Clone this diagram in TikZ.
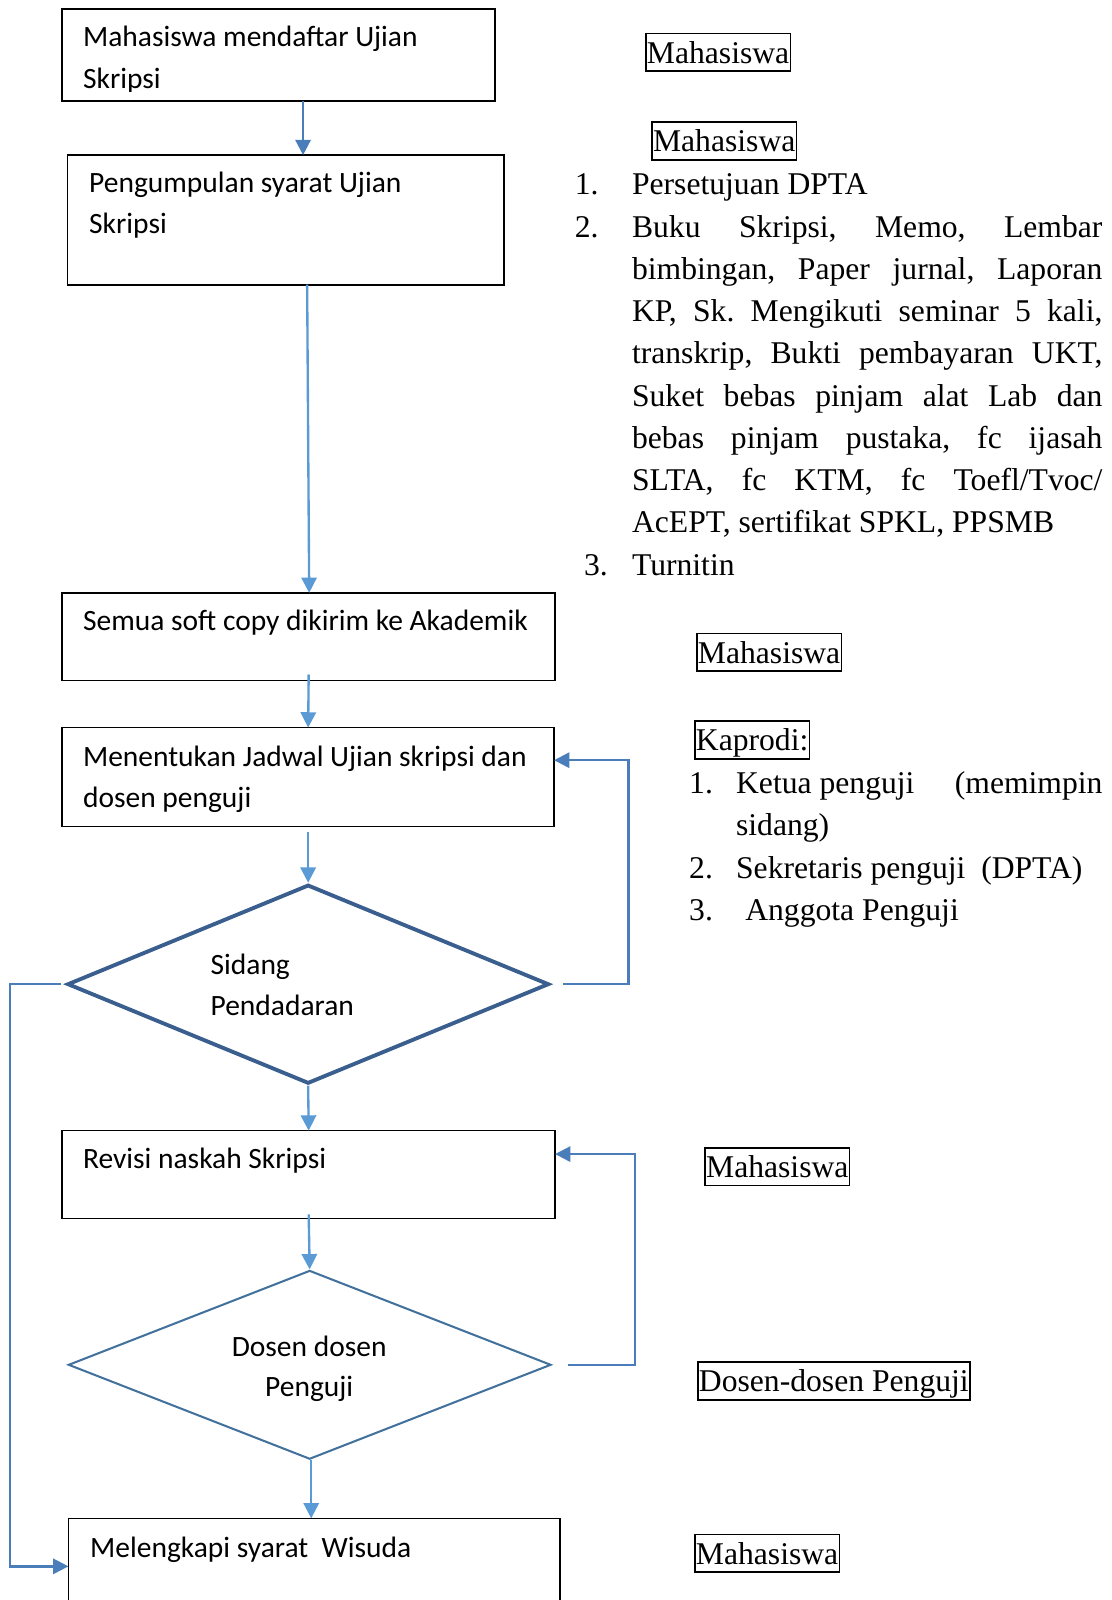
\documentclass[tikz,border=0pt]{standalone}
\usepackage{fontspec}
\setmainfont{Liberation Serif}
\newfontfamily\calfont{Carlito}
\usetikzlibrary{shapes.geometric,arrows.meta}
\definecolor{lblue}{HTML}{5B9BD5}
\definecolor{mblue}{HTML}{4A7EBB}
\definecolor{dblue}{HTML}{41719C}
\definecolor{dkblue}{HTML}{3A5F8F}
\frenchspacing
\tikzset{
  procbox/.style={draw, line width=0.8pt, inner sep=0pt, outer sep=0pt},
  ctext/.style={font=\calfont\fontsize{14.45pt}{20pt}\selectfont, inner sep=0pt, anchor=base west},
  ttext/.style={font=\fontsize{15.5pt}{20.8pt}\selectfont, inner sep=0pt, anchor=base west},
  tag/.style={draw, line width=0.8pt, font=\fontsize{15.5pt}{20.8pt}\selectfont, inner xsep=0.6pt, inner ysep=0.5pt, text height=14pt, text depth=3.5pt, anchor=north west},
  decA/.style={diamond, draw=dkblue, line width=1.9pt, inner sep=0pt},
  decB/.style={diamond, draw=dblue, line width=1pt, inner sep=0pt},
  arrd/.style={draw=lblue, line width=1.15pt, -{Triangle[length=7.5pt,width=7.5pt]}},
  fb/.style={draw=mblue, line width=1.15pt, -{Triangle[length=7.5pt,width=7.5pt]}}
}
\begin{document}
\begin{tikzpicture}[x=0.5pt,y=-0.5pt]
\useasboundingbox (0,0) rectangle (1089,1568);
\clip (0,0) rectangle (1089,1568);

% ---------- process boxes ----------
\node[procbox, minimum width=212pt, minimum height=45pt] (b1) at (273,54) {};
\node[procbox, minimum width=214pt, minimum height=63.5pt] (b2) at (280,215.5) {};
\node[procbox, minimum width=241.5pt, minimum height=43pt] (b3) at (302.5,624) {};
\node[procbox, minimum width=241pt, minimum height=48.5pt] (b4) at (302,761.5) {};
\node[decA, minimum width=236pt, minimum height=97.5pt] (d1) at (302,964.5) {};
\node[procbox, minimum width=241.5pt, minimum height=43pt] (b5) at (302.5,1151) {};
\node[decB, minimum width=236.5pt, minimum height=92.5pt] (d2) at (303.5,1337.5) {};
\node[procbox, minimum width=241pt, minimum height=50pt] (b6) at (308,1538) {};

% ---------- texts in boxes ----------
\node[ctext] (t1a) at (81,46) {Mahasiswa mendaftar Ujian};
\begin{scope}
  \clip (62,10) rectangle (484,89.5);
  \node[ctext] (t1b) at (81,87) {Skripsi};
\end{scope}
\node[ctext] (t2a) at (87,189) {Pengumpulan syarat Ujian};
\node[ctext] (t2b) at (87,229) {Skripsi};
\node[ctext] (t3) at (81,618) {Semua soft copy dikirim ke Akademik};
\node[ctext] (t4a) at (81,751) {Menentukan Jadwal Ujian skripsi dan};
\node[ctext] (t4b) at (81,791) {dosen penguji};
\node[ctext] (td1a) at (206,955) {Sidang};
\node[ctext] (td1b) at (206,995) {Pendadaran};
\node[ctext] (t5) at (81,1145) {Revisi naskah Skripsi};
\node[ctext, anchor=base] (td2a) at (303,1329) {Dosen dosen};
\node[ctext, anchor=base] (td2b) at (303,1369) {Penguji};
\node[ctext] (t6) at (88,1526) {Melengkapi syarat~ Wisuda};

% ---------- connectors ----------
\coordinate (cA) at (297,0);
\coordinate (cB) at (301,0);
\coordinate (cC) at (303,0);
\coordinate (cD) at (305,0);
\draw[arrd, draw=mblue] (b1.south -| cA) -- (b2.north -| cA);
\draw[arrd] (b2.south -| cB) -- (b3.north -| cC);
\draw[arrd] ([yshift=3pt]b3.south) -- (b4.north);
\draw[arrd] ([yshift=-2.5pt]b4.south) -- (d1.north);
\draw[arrd] (d1.south) -- (b5.north);
\draw[arrd] ([yshift=2pt]b5.south) -- (d2.north);
\draw[arrd] (d2.south -| cD) -- (b6.north -| cD);

\coordinate (r1) at (616,745);
\draw[fb] ([xshift=6pt]d1.east) -| (r1) -- (b4.east |- r1);
\coordinate (r2) at (622,1131);
\draw[fb] ([xshift=8pt]d2.east) -| (r2) -- (b5.east |- r2);
\coordinate (l1) at (10,964.5);
\coordinate (l2) at (10,1535);
\draw[fb] ([xshift=-2pt]d1.west) -- (l1) -- (l2) -- (b6.west |- l2);

% ---------- right column ----------
\node[tag] (m1) at (632,32) {Mahasiswa};
\node[tag] (m2) at (638,119) {Mahasiswa};
\node[ttext] (n1) at (563,191) {1.};
\node[ttext] (i1) at (619,191) {Persetujuan DPTA};
\node[ttext] (n2) at (563,232.4) {2.};
\node[ttext] (i2a) at (619,232.4) {\makebox[230.5pt][s]{Buku Skripsi, Memo, Lembar}};
\node[ttext] (i2b) at (619,273.8) {\makebox[230.5pt][s]{bimbingan, Paper jurnal, Laporan}};
\node[ttext] (i2c) at (619,315.2) {\makebox[230.5pt][s]{KP, Sk. Mengikuti seminar 5 kali,}};
\node[ttext] (i2d) at (619,356.6) {\makebox[230.5pt][s]{transkrip, Bukti pembayaran UKT,}};
\node[ttext] (i2e) at (619,398) {\makebox[230.5pt][s]{Suket bebas pinjam alat Lab dan}};
\node[ttext] (i2f) at (619,439.4) {\makebox[230.5pt][s]{bebas pinjam pustaka, fc ijasah}};
\node[ttext] (i2g) at (619,480.8) {\makebox[230.5pt][s]{SLTA, fc KTM, fc Toefl/Tvoc/}};
\node[ttext] (i2h) at (619,522.2) {AcEPT, sertifikat SPKL, PPSMB};
\node[ttext] (n3) at (572,563.6) {3.};
\node[ttext] (i3) at (619,563.6) {Turnitin};

\node[tag] (m3) at (682,620) {Mahasiswa};
\node[tag] (kp) at (680,706) {Kaprodi:};
\node[ttext] (k1) at (675,778) {1.};
\node[ttext] (k1a) at (721,778) {\makebox[179.5pt][l]{Ketua penguji\hfill(memimpin}};
\node[ttext] (k1b) at (721,819) {sidang)};
\node[ttext] (k2) at (675,861) {2.};
\node[ttext] (k2a) at (721,861) {Sekretaris penguji~ (DPTA)};
\node[ttext] (k3) at (675,902) {3.};
\node[ttext] (k3a) at (730,902) {Anggota Penguji};

\node[tag] (m4) at (690,1124) {Mahasiswa};
\node[tag] (dp) at (683,1334) {Dosen-dosen Penguji};
\node[tag] (m5) at (680,1503) {Mahasiswa};
\end{tikzpicture}
\end{document}
